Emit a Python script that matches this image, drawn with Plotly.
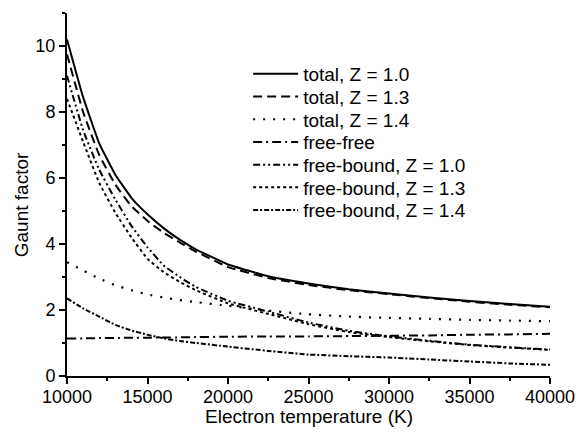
import plotly.graph_objects as go

# Electron temperature grid (K)
temp = [10000, 11000, 12000, 13000, 14000, 15000, 16000, 17000, 18000,
        20000, 22500, 25000, 27500, 30000, 32500, 35000, 37500, 40000]

total_z10 = [10.2, 8.45, 7.05, 6.1, 5.4, 4.9, 4.48, 4.13, 3.84,
             3.38, 3.02, 2.8, 2.63, 2.5, 2.38, 2.27, 2.18, 2.1]
total_z13 = [9.75, 8.0, 6.7, 5.8, 5.15, 4.7, 4.34, 4.05, 3.77,
             3.3, 2.97, 2.76, 2.6, 2.48, 2.36, 2.25, 2.16, 2.08]
total_z14 = [3.45, 3.2, 2.95, 2.75, 2.6, 2.47, 2.38, 2.3, 2.24,
             2.13, 1.98, 1.87, 1.8, 1.76, 1.73, 1.7, 1.68, 1.66]
free_free = [1.14, 1.14, 1.15, 1.15, 1.16, 1.16, 1.17, 1.17, 1.18,
             1.19, 1.2, 1.2, 1.21, 1.22, 1.23, 1.25, 1.26, 1.28]
fb_z10 = [9.1, 7.45, 6.25, 5.35, 4.55, 3.9, 3.35, 3.0, 2.7,
          2.28, 1.95, 1.62, 1.37, 1.2, 1.07, 0.95, 0.87, 0.8]
fb_z13 = [8.4, 7.1, 5.85, 4.95, 4.2, 3.55, 3.15, 2.85, 2.6,
          2.2, 1.88, 1.57, 1.33, 1.18, 1.05, 0.94, 0.86, 0.79]
fb_z14 = [2.35, 2.05, 1.8, 1.55, 1.38, 1.25, 1.14, 1.06, 1.0,
          0.89, 0.76, 0.65, 0.6, 0.56, 0.5, 0.44, 0.38, 0.34]

names = ["total, Z = 1.0", "total, Z = 1.3", "total, Z = 1.4", "free-free",
         "free-bound, Z = 1.0", "free-bound, Z = 1.3", "free-bound, Z = 1.4"]
series = [total_z10, total_z13, total_z14, free_free, fb_z10, fb_z13, fb_z14]
dashes = ["solid", "9px,5px", "2px,8px", "9px,4px,2px,4px",
          "7px,3px,2px,3px,2px,3px", "3px,3px", "5px,2px,2px,2px"]
widths = [2, 2, 2.2, 2, 2, 2, 2]

x_title = "Electron temperature (K)"
y_title = "Gaunt factor"

fig = go.Figure()
legend_ids = ["legend"] + ["legend%d" % i for i in range(2, 8)]
for n, s, d, w, lg in zip(names, series, dashes, widths, legend_ids):
    fig.add_trace(go.Scatter(x=temp, y=s, mode="lines", name=n, legend=lg,
                             line=dict(color="black", width=w, dash=d,
                                       shape="spline", smoothing=0.3)))

font = "Liberation Sans, Arial, sans-serif"
W, H = 587, 443
plot_left, plot_right, plot_top, plot_bottom = 67, 563, 13, 376
row0, row_gap = 74, 22.7
layout_legends = {}
for i, lg in enumerate(legend_ids):
    yc = row0 + i * row_gap
    layout_legends[lg] = dict(
        x=0.375, y=(plot_bottom - yc) / (plot_bottom - plot_top),
        xanchor="left", yanchor="middle",
        bgcolor="rgba(0,0,0,0)", font=dict(size=19), itemwidth=45)

fig.update_layout(
    width=W, height=H,
    margin=dict(l=plot_left, r=W - plot_right, t=plot_top, b=H - plot_bottom),
    paper_bgcolor="white", plot_bgcolor="white",
    font=dict(family=font, size=18, color="black"),
    showlegend=True,
    annotations=[
        dict(text=x_title, xref="paper", yref="paper", x=0.5,
             y=(plot_bottom - 416) / (plot_bottom - plot_top),
             xanchor="center", yanchor="middle", showarrow=False,
             font=dict(size=19)),
        dict(text=y_title, xref="paper", yref="paper",
             x=(20 - plot_left) / (plot_right - plot_left),
             y=(plot_bottom - 205) / (plot_bottom - plot_top),
             xanchor="center", yanchor="middle", showarrow=False,
             textangle=-90, font=dict(size=19)),
    ],
    **layout_legends,
)
fig.update_xaxes(range=[10000, 40000], dtick=5000, tick0=10000, tickformat="d",
                 showline=True, linecolor="black", linewidth=2,
                 ticks="outside", ticklen=6, tickwidth=2, tickcolor="black",
                 minor=dict(dtick=2500, ticks="outside", ticklen=3, tickwidth=1.5, tickcolor="black"),
                 showgrid=False, zeroline=False, ticklabeloverflow="allow",
                 tickfont=dict(size=18), ticklabelstandoff=-3)
fig.update_yaxes(range=[0, 11], dtick=2, tick0=0,
                 showline=True, linecolor="black", linewidth=2,
                 ticks="outside", ticklen=6, tickwidth=2, tickcolor="black",
                 minor=dict(dtick=1, ticks="outside", ticklen=3, tickwidth=1.5, tickcolor="black"),
                 showgrid=False, zeroline=False,
                 tickfont=dict(size=18))

fig.write_html("out.html")
